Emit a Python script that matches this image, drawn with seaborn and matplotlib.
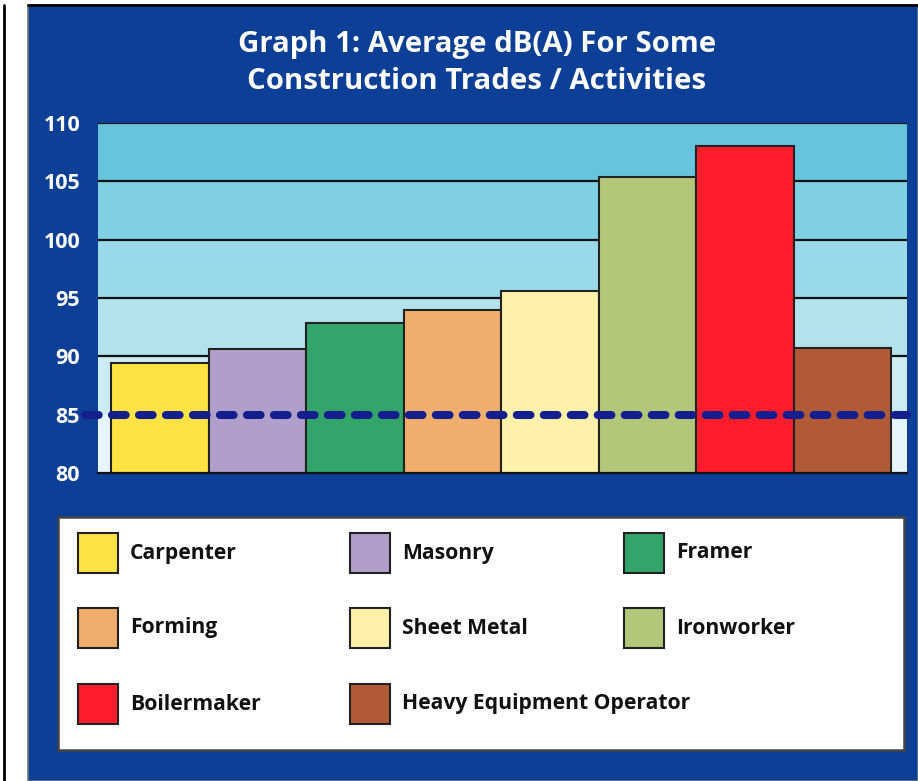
import matplotlib.pyplot as plt
import seaborn as sns
from matplotlib.patches import Rectangle
from matplotlib.lines import Line2D

trades = ['Carpenter', 'Masonry', 'Framer', 'Forming', 'Sheet Metal',
          'Ironworker', 'Boilermaker', 'Heavy Equipment Operator']
avg_dba = [89.4, 90.6, 92.9, 94.0, 95.6, 105.4, 108.0, 90.7]
colors = ['#FFE344', '#B19FCB', '#33A56A', '#EFAE6D', '#FFF0AA',
          '#B2C77A', '#FF1C2D', '#B05A38']
limit_db = 85
y_ticks = [80, 85, 90, 95, 100, 105, 110]
band_colors = ['#E6F5FA', '#CCEBF3', '#B3E1EC', '#9AD9E9', '#7FD0E3', '#66C5DC']
title = 'Graph 1: Average dB(A) For Some\nConstruction Trades / Activities'

sns.set_style('white')
plt.rcParams['font.family'] = ['Open Sans', 'DejaVu Sans']

W, H = 918, 781
fig = plt.figure(figsize=(W / 100, H / 100), dpi=100)
fig.patch.set_facecolor('white')

# blue panel and frame lines
fig.patches.append(Rectangle((28 / W, 0), 1 - 28 / W, 1 - 5 / H, transform=fig.transFigure,
                             facecolor='#0C3F95', edgecolor='#777777', linewidth=1.2, zorder=-5))
fig.lines.append(Line2D([28 / W, 1], [1 - 4.5 / H] * 2, transform=fig.transFigure,
                        color='black', linewidth=2, zorder=-4))
fig.lines.append(Line2D([4 / W] * 2, [0, 1 - 5 / H], transform=fig.transFigure,
                        color='black', linewidth=2, zorder=-4))

fig.text(477 / W, 1 - 63 / H, title, ha='center', va='center', color='white',
         fontsize=21.2, fontweight='bold', linespacing=1.35)

# main chart
ax = fig.add_axes([98 / W, 1 - 473 / H, 809 / W, 350 / H])
for i, c in enumerate(band_colors):
    ax.axhspan(y_ticks[i], y_ticks[i + 1], color=c, zorder=0, linewidth=0)
for t in y_ticks[1:]:
    if t != limit_db:
        ax.axhline(t, color='#111111', linewidth=1.6, zorder=1)

sns.barplot(x=trades, y=avg_dba, hue=trades, palette=colors, width=1.0, saturation=1,
            edgecolor='#222222', linewidth=1.5, legend=False, ax=ax, zorder=2)

ax.axhline(limit_db, xmin=-13 / 809, xmax=1.0, color='#141E8C', linewidth=5.8,
           dashes=(1.7, 1.65), dash_capstyle='round', clip_on=False, zorder=4)

ax.set_ylim(80, 110)
ax.set_xlim(-0.5 - 13 / 97.5, 7.5 + 16 / 97.5)
ax.set_yticks(y_ticks)
ax.set_xticks([])
ax.set_xlabel('')
ax.set_ylabel('')
ax.tick_params(axis='y', length=8.6, width=1.6, color='#111111', pad=4.3,
               labelcolor='white', labelsize=15.5)
for lbl in ax.get_yticklabels():
    lbl.set_fontweight('bold')
for s in ['top', 'right', 'left']:
    ax.spines[s].set_visible(False)
ax.spines['bottom'].set_color('#111111')
ax.spines['bottom'].set_linewidth(1.6)

# legend box
lax = fig.add_axes([58 / W, 1 - 750 / H, 846 / W, 233 / H])
lax.set_xlim(0, 846)
lax.set_ylim(233, 0)
lax.set_xticks([])
lax.set_yticks([])
lax.set_facecolor('white')
for s in lax.spines.values():
    s.set_color('#444444')
    s.set_linewidth(1.8)

col_x = [20, 292, 566]
row_y = [16, 91, 167]
for i, (name, c) in enumerate(zip(trades, colors)):
    x0 = col_x[i % 3]
    y0 = row_y[i // 3]
    lax.add_patch(Rectangle((x0, y0), 40, 40, facecolor=c, edgecolor='#222222', linewidth=1.5))
    lax.text(x0 + 52, y0 + 20, name, ha='left', va='center', color='#111111',
             fontsize=15.2, fontweight='bold')

fig.savefig('out.png', dpi=100)
